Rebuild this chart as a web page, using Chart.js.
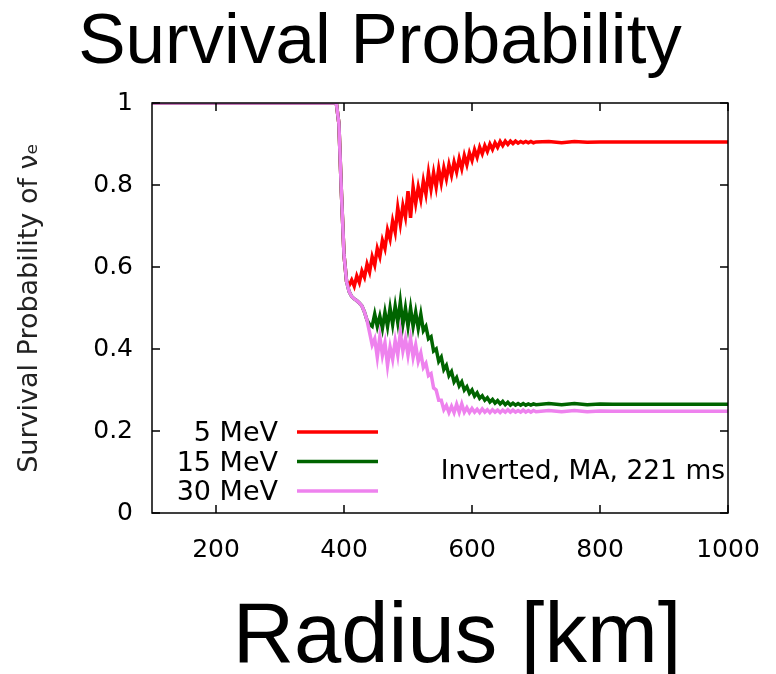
<!DOCTYPE html>
<html>
<head>
<meta charset="utf-8">
<title>Survival Probability</title>
<script src="https://cdn.jsdelivr.net/npm/chart.js@4.4.1/dist/chart.umd.min.js"></script>
<style>
  html, body { margin: 0; padding: 0; background: #fff; }
  canvas { display: block; }
</style>
</head>
<body>
<canvas id="chart" width="776" height="674"></canvas>
<script>
// radius samples [km]
const radius = [
  100, 200, 300, 380,
  384, 388, 392, 396, 400, 404, 408, 412, 416, 420,
  424, 428, 432, 436, 440, 444, 448, 452, 456, 460,
  464, 468, 472, 476, 480, 484, 488, 492, 496, 500,
  504, 508, 512, 516, 520, 524, 528, 532, 536, 540,
  544, 548, 552, 556, 560, 564, 568, 572, 576, 580,
  584, 588, 592, 596, 600, 604, 608, 612, 616, 620,
  624, 628, 632, 636, 640, 644, 648, 652, 656, 660,
  664, 668, 672, 676, 680, 684, 688, 692, 696, 700,
  720, 740, 760, 780, 800, 820, 840, 860, 880, 900, 920, 940, 960, 980, 1000
];

// survival probability of nu_e
const prob5 = [
  1, 1, 1, 1,
  1, 1, 0.95, 0.78, 0.63, 0.565, 0.555, 0.568, 0.553, 0.578,
  0.562, 0.59, 0.575, 0.607, 0.588, 0.625, 0.605, 0.645, 0.625, 0.665,
  0.645, 0.69, 0.668, 0.712, 0.685, 0.745, 0.705, 0.75, 0.722, 0.785,
  0.72, 0.795, 0.755, 0.795, 0.765, 0.81, 0.778, 0.83, 0.79, 0.83,
  0.795, 0.84, 0.805, 0.842, 0.815, 0.85, 0.824, 0.856, 0.832, 0.864,
  0.84, 0.872, 0.85, 0.878, 0.86, 0.886, 0.868, 0.892, 0.876, 0.896,
  0.882, 0.9, 0.887, 0.903, 0.892, 0.906, 0.896, 0.907, 0.899, 0.907,
  0.901, 0.907, 0.902, 0.906, 0.903, 0.906, 0.903, 0.906, 0.903, 0.905,
  0.906, 0.903, 0.906, 0.904, 0.905, 0.905, 0.905, 0.905, 0.905, 0.905, 0.905, 0.905, 0.905, 0.905, 0.905
];
const prob15 = [
  1, 1, 1, 1,
  1, 1, 0.95, 0.78, 0.63, 0.565, 0.54, 0.528, 0.522, 0.518,
  0.512, 0.505, 0.49, 0.47, 0.46, 0.455, 0.485, 0.455, 0.48, 0.45,
  0.49, 0.455, 0.50, 0.46, 0.505, 0.465, 0.515, 0.46, 0.50, 0.455,
  0.50, 0.455, 0.49, 0.45, 0.485, 0.445, 0.455, 0.425, 0.43, 0.395,
  0.40, 0.37, 0.38, 0.35, 0.36, 0.335, 0.345, 0.32, 0.33, 0.31,
  0.32, 0.30, 0.308, 0.292, 0.30, 0.285, 0.293, 0.28, 0.286, 0.275,
  0.281, 0.271, 0.277, 0.268, 0.274, 0.266, 0.272, 0.264, 0.27, 0.263,
  0.268, 0.263, 0.267, 0.263, 0.267, 0.263, 0.266, 0.263, 0.266, 0.264,
  0.267, 0.264, 0.267, 0.264, 0.266, 0.265, 0.265, 0.265, 0.265, 0.265, 0.265, 0.265, 0.265, 0.265, 0.265
];
const prob30 = [
  1, 1, 1, 1,
  1, 1, 0.95, 0.78, 0.63, 0.565, 0.54, 0.528, 0.522, 0.518,
  0.512, 0.505, 0.49, 0.47, 0.44, 0.41, 0.425, 0.38, 0.43, 0.385,
  0.415, 0.36, 0.405, 0.375, 0.42, 0.385, 0.44, 0.395, 0.425, 0.385,
  0.425, 0.38, 0.41, 0.37, 0.39, 0.355, 0.365, 0.335, 0.34, 0.305,
  0.30, 0.275, 0.275, 0.252, 0.262, 0.245, 0.26, 0.245, 0.265, 0.246,
  0.266, 0.246, 0.257, 0.245, 0.255, 0.246, 0.253, 0.245, 0.254, 0.246,
  0.252, 0.245, 0.252, 0.246, 0.251, 0.245, 0.251, 0.246, 0.252, 0.246,
  0.251, 0.246, 0.25, 0.246, 0.251, 0.246, 0.25, 0.246, 0.25, 0.247,
  0.25, 0.247, 0.25, 0.247, 0.249, 0.248, 0.248, 0.248, 0.248, 0.248, 0.248, 0.248, 0.248, 0.248, 0.248
];

const seriesLabels = ['5 MeV', '15 MeV', '30 MeV'];
const seriesColors = ['#ff0000', '#006400', '#ee82ee'];
const xTicks = [200, 400, 600, 800, 1000];
const yTicks = [0, 0.2, 0.4, 0.6, 0.8, 1];
const xTitle = 'Radius [km]';
const note = 'Inverted, MA, 221 ms';

const plotFont = "'DejaVu Sans', sans-serif";
const bigFont = "'Liberation Sans', Arial, sans-serif";

const toPoints = (vals) => radius.map((r, i) => ({ x: r, y: vals[i] }));

// gnuplot style box with inward ticks, key, label and the big x title
const gnuplotFrame = {
  id: 'gnuplotFrame',
  afterDatasetsDraw(chart) {
    const { ctx, chartArea: a, scales: { x, y } } = chart;
    ctx.save();
    ctx.strokeStyle = '#000';
    ctx.lineWidth = 1.5;
    ctx.strokeRect(a.left, a.top, a.right - a.left, a.bottom - a.top);

    ctx.beginPath();
    xTicks.forEach(v => {
      const px = x.getPixelForValue(v);
      ctx.moveTo(px, a.bottom); ctx.lineTo(px, a.bottom - 8);
      ctx.moveTo(px, a.top); ctx.lineTo(px, a.top + 8);
    });
    yTicks.forEach(v => {
      const py = y.getPixelForValue(v);
      ctx.moveTo(a.left, py); ctx.lineTo(a.left + 8, py);
      ctx.moveTo(a.right, py); ctx.lineTo(a.right - 8, py);
    });
    ctx.stroke();

    // key (bottom left, labels right aligned before the samples)
    ctx.font = '27px ' + plotFont;
    ctx.fillStyle = '#000';
    ctx.textAlign = 'right';
    ctx.textBaseline = 'middle';
    seriesLabels.forEach((lab, i) => {
      const rowY = a.bottom - 81 + i * 29.5;
      ctx.fillText(lab, a.left + 126, rowY + 2);
      ctx.strokeStyle = seriesColors[i];
      ctx.lineWidth = 3.5;
      ctx.beginPath();
      ctx.moveTo(a.left + 145, rowY);
      ctx.lineTo(a.left + 226, rowY);
      ctx.stroke();
    });

    ctx.font = '26.5px ' + plotFont;
    ctx.fillText(note, a.right - 3, a.bottom - 41);

    ctx.font = '85px ' + bigFont;
    ctx.textAlign = 'center';
    ctx.textBaseline = 'alphabetic';
    ctx.fillText(xTitle, a.left + 305, a.bottom + 149);
    ctx.restore();
  }
};

new Chart(document.getElementById('chart'), {
  type: 'line',
  data: {
    datasets: [
      { label: seriesLabels[0], data: toPoints(prob5), borderColor: seriesColors[0], order: 3 },
      { label: seriesLabels[1], data: toPoints(prob15), borderColor: seriesColors[1], order: 2 },
      { label: seriesLabels[2], data: toPoints(prob30), borderColor: seriesColors[2], order: 1 }
    ]
  },
  options: {
    responsive: false,
    animation: false,
    datasets: {
      line: { borderWidth: 3.5, pointRadius: 0, tension: 0, fill: false }
    },
    layout: { padding: { left: 32, right: 48, top: 0, bottom: 0 } },
    plugins: {
      legend: { display: false },
      tooltip: { enabled: false },
      title: {
        display: true,
        text: 'Survival Probability',
        color: '#000',
        font: { family: bigFont, size: 71, weight: 'normal', lineHeight: 1.2 },
        padding: { top: 1, bottom: 16.8 }
      }
    },
    scales: {
      x: {
        type: 'linear',
        min: 100,
        max: 1000,
        afterBuildTicks: (s) => { s.ticks = xTicks.map(v => ({ value: v })); },
        afterFit: (s) => { s.height = 161; },
        grid: { display: false, drawTicks: true, tickLength: 22 },
        border: { display: false },
        ticks: {
          color: '#000', font: { family: plotFont, size: 25 }, padding: 0,
          maxRotation: 0, autoSkip: false, callback: (v) => String(v)
        }
      },
      y: {
        type: 'linear',
        min: 0,
        max: 1,
        afterBuildTicks: (s) => { s.ticks = yTicks.map(v => ({ value: v })); },
        afterFit: (s) => { s.width = 120; },
        grid: { display: false, drawTicks: false },
        border: { display: false },
        ticks: { color: '#000', font: { family: plotFont, size: 25 }, padding: 19, callback: (v) => String(v) },
        title: {
          display: true,
          text: 'Survival Probability of νₑ',
          color: '#222',
          font: { family: plotFont, size: 27 },
          padding: { top: -18, bottom: 0 }
        }
      }
    }
  },
  plugins: [gnuplotFrame]
});
</script>
</body>
</html>
